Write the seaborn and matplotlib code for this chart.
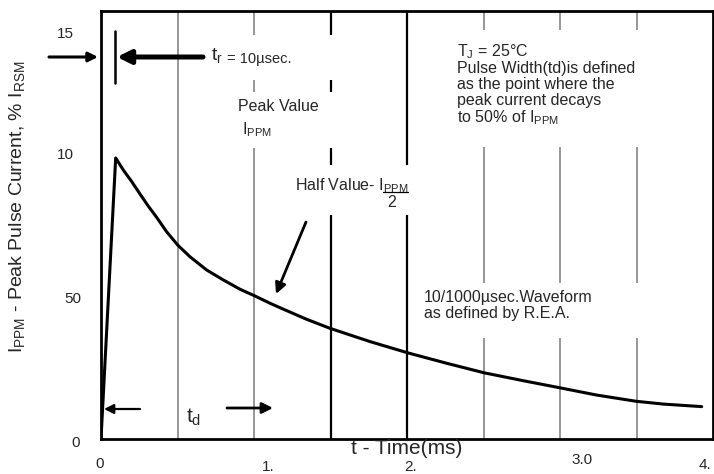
import numpy as np
import pandas as pd
import matplotlib
matplotlib.use("Agg")
import matplotlib.pyplot as plt
from matplotlib.patches import Rectangle
import seaborn as sns

# ---- data ----
time_ms = [0.0, 0.096, 0.146, 0.201, 0.255, 0.309, 0.364, 0.429, 0.501, 0.582,
           0.691, 0.799, 0.908, 1.002, 1.105, 1.192, 1.34, 1.497, 1.758, 2.005,
           2.259, 2.505, 2.760, 3.007, 3.240, 3.497, 3.675, 3.926]
current_pct = [0.0, 99.8, 95.5, 91.4, 87.0, 82.7, 78.7, 73.6, 68.9, 64.7,
               60.0, 56.5, 53.2, 50.9, 48.2, 46.1, 42.6, 39.3, 34.6, 30.6,
               26.9, 23.5, 20.7, 18.1, 15.6, 13.4, 12.4, 11.5]
x_tick_labels = ["0", "1.", "2.", "3.0", "4."]
y_tick_labels = ["0", "50", "10", "15"]
grid_x = [0.5, 1.0, 1.5, 2.0, 2.5, 3.0, 3.5]
grid_dark = [False, False, True, True, False, False, False]

df = pd.DataFrame({"t": time_ms, "i": current_pct})

sns.set_style("white")
plt.rcParams["font.family"] = ["Liberation Sans", "DejaVu Sans"]
plt.rcParams["mathtext.fontset"] = "custom"
plt.rcParams["mathtext.rm"] = "Liberation Sans"
plt.rcParams["mathtext.it"] = "Liberation Sans"

W, H = 714, 474
L, R, T, B = 101, 713, 11, 439
XMAX, YMAX = 4.0, 152.0

fig = plt.figure(figsize=(W / 100, H / 100), dpi=100)
ax = fig.add_axes([L / W, (H - B) / H, (R - L) / W, (B - T) / H])
ax.set_xlim(0, XMAX)
ax.set_ylim(0, YMAX)


def P(x, y):
    """pixel -> data coordinates (for annotations/layout)"""
    return ((x - L) / (R - L) * XMAX, (B - y) / (B - T) * YMAX)


# grid lines
for gx, dark in zip(grid_x, grid_dark):
    ax.axvline(gx, color="black" if dark else "#7a7a7a",
               lw=1.6 if dark else 1.1, zorder=1)

# curve
sns.lineplot(data=df, x="t", y="i", ax=ax, color="black", lw=2.2,
             zorder=5, legend=False)

# white boxes that mask the grid behind the annotations
def wbox(x0, y0, x1, y1):
    a = P(x0, y1)
    b = P(x1, y0)
    ax.add_patch(Rectangle(a, b[0] - a[0], b[1] - a[1], facecolor="white",
                           edgecolor="none", zorder=2))

wbox(205, 35, 348, 80)
wbox(232, 92, 366, 148)
wbox(288, 165, 436, 215)
wbox(455, 30, 700, 147)
wbox(416, 283, 687, 338)
wbox(180, 390, 227, 435)

# spines
for s in ax.spines.values():
    s.set_linewidth(2.0)
    s.set_color("black")
    s.set_zorder(6)

ax.set_xticks([])
ax.set_yticks([])
ax.set_xlabel("")
ax.set_ylabel("")

# y tick labels
for lab, py, pxr in zip(y_tick_labels, [443, 299, 155, 34], [80, 81, 74, 74]):
    xx, yy = P(pxr, py)
    ax.text(xx, yy, lab, ha="right", va="center", fontsize=11, clip_on=False)

# x tick labels
for lab, pxc, py in zip(x_tick_labels, [99.5, 268, 411, 582, 705], [464, 467, 467, 460, 465]):
    xx, yy = P(pxc, py)
    ax.text(xx, yy, lab, ha="center", va="center", fontsize=11, clip_on=False)

# axis labels
xx, yy = P(407, 449)
ax.text(xx, yy, "t - Time(ms)", ha="center", va="center", fontsize=15, clip_on=False, zorder=7)
fig.text(17 / W, 1 - 207 / H,
         r"I$_{\mathregular{PPM}}$ - Peak Pulse Current, % I$_{\mathregular{RSM}}$",
         rotation=90, ha="center", va="center", fontsize=14)

# arrows
def arrow(x0, y0, x1, y1, lw=1.5, ms=15, style="-|>"):
    ax.annotate("", xy=P(x1, y1), xytext=P(x0, y0),
                arrowprops=dict(arrowstyle=style, lw=lw, color="black",
                                mutation_scale=ms, shrinkA=0, shrinkB=0),
                annotation_clip=False, zorder=7)

arrow(49, 57, 98, 57, lw=2.2, ms=14)
arrow(203, 57, 117, 57, lw=3.6, ms=20)
arrow(140, 409, 104, 409, lw=1.6, ms=14)
arrow(227, 408, 273, 408, lw=2.0, ms=16)
arrow(306, 222, 276, 294, lw=2.0, ms=16)

# vertical marker line for t_r
a = P(115, 31)
b = P(115, 83)
ax.plot([a[0], b[0]], [a[1], b[1]], color="black", lw=1.8, zorder=7)

# texts
xx, yy = P(211, 60)
ax.text(xx, yy, r"t$_\mathregular{r}$", fontsize=14, ha="left", va="baseline", zorder=7)
xx, yy = P(227, 63)
ax.text(xx, yy, "= 10µsec.", fontsize=10.5, ha="left", va="baseline", zorder=7)

xx, yy = P(238, 111)
ax.text(xx, yy, "Peak Value", fontsize=11.5, ha="left", va="baseline", zorder=7)
xx, yy = P(242, 134)
ax.text(xx, yy, r"I$_{\mathregular{PPM}}$", fontsize=11.5, ha="left", va="baseline", zorder=7)

xx, yy = P(295, 190)
ax.text(xx, yy, r"Half Value- I$_{\mathregular{PPM}}$", fontsize=11.5, ha="left",
        va="baseline", zorder=7)
a = P(383, 192)
b = P(408, 192)
ax.plot([a[0], b[0]], [a[1], b[1]], color="black", lw=0.9, zorder=7)
xx, yy = P(387, 207)
ax.text(xx, yy, "2", fontsize=11.5, ha="left", va="baseline", zorder=7)

xx, yy = P(457, 42)
ax.text(xx, yy,
        "T$_\\mathregular{J}$ = 25°C\nPulse Width(td)is defined\nas the point where the\n"
        "peak current decays\nto 50% of I$_{\\mathregular{PPM}}$",
        fontsize=11.5, ha="left", va="top", linespacing=1.05, zorder=7)

xx, yy = P(424, 290)
ax.text(xx, yy, "10/1000µsec.Waveform\nas defined by R.E.A.", fontsize=11.5,
        ha="left", va="top", linespacing=1.05, zorder=7)

xx, yy = P(186, 423)
ax.text(xx, yy, r"t$_\mathregular{d}$", fontsize=15, ha="left", va="baseline", zorder=7)

fig.savefig("out.png", dpi=100)
